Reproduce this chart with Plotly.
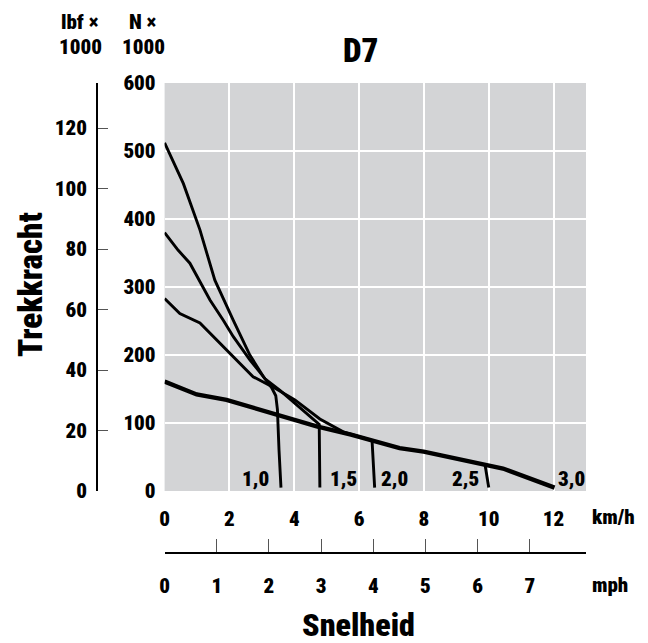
import plotly.graph_objects as go

# ---- data (speed km/h, drawbar pull kN) ----
speed_g10 = [0, 0.58, 1.09, 1.55, 2.12, 2.63, 3.05, 3.30, 3.43, 3.48, 3.53, 3.59]
force_g10 = [512, 452, 384, 310, 251, 200, 168, 152, 140, 120, 60, 5]

speed_g15 = [0, 0.42, 0.78, 1.40, 1.81, 2.12, 2.63, 3.10, 3.56, 4.02, 4.50, 4.77, 4.79]
force_g15 = [380, 354, 335, 281, 251, 227, 193, 165, 148, 129, 109, 98, 5]

speed_g20 = [0, 0.47, 1.09, 1.71, 2.20, 2.73, 3.45, 4.02, 4.79, 5.20, 5.51, 6.00, 6.40, 6.48]
force_g20 = [283, 261, 247, 217, 193, 168, 150, 134, 106, 95, 87, 80, 74, 5]

speed_main = [0, 0.99, 1.91, 3.45, 4.69, 5.75, 6.40, 7.25, 7.99, 8.80, 9.93, 10.44, 12.03]
force_main = [161, 142, 134, 112, 95, 83, 74, 63, 58, 50, 38, 33, 5]

speed_g25 = [9.89, 10.0]
force_g25 = [37, 5]

gear_labels = ["1,0", "1,5", "2,0", "2,5", "3,0"]
gear_label_x = [3.27, 5.03, 6.62, 9.76, 12.08]
gear_label_anchor = ["right", "left", "left", "right", "left"]
gear_label_y = 17.6

kmh_ticks = [0, 2, 4, 6, 8, 10, 12]
mph_ticks = [0, 1, 2, 3, 4, 5, 6, 7]
kn_ticks = [0, 100, 200, 300, 400, 500, 600]
lbf_ticks = [0, 20, 40, 60, 80, 100, 120]

KMH_MAX = 13
KN_MAX = 600
KMH_PER_MPH = 1.609344
KN_PER_KLBF = 4.44822

FONT = "Roboto Condensed, Open Sans, sans-serif"
WEIGHT = 900
BG = "#d3d4d6"

fig = go.Figure()
thin = dict(color="black", width=2.9)
for xs, ys, ln in [
    (speed_g10, force_g10, thin),
    (speed_g15, force_g15, thin),
    (speed_g20, force_g20, thin),
    (speed_g25, force_g25, thin),
    (speed_main, force_main, dict(color="black", width=4.4)),
]:
    fig.add_trace(go.Scatter(x=xs, y=ys, mode="lines", line=ln,
                             showlegend=False, hoverinfo="skip"))

# empty traces to activate the secondary (mph / lbf) axes
fig.add_trace(go.Scatter(x=[], y=[], xaxis="x2", yaxis="y", showlegend=False))
fig.add_trace(go.Scatter(x=[], y=[], xaxis="x", yaxis="y2", showlegend=False))

for t, xv, anc in zip(gear_labels, gear_label_x, gear_label_anchor):
    fig.add_annotation(x=xv, y=gear_label_y, xref="x", yref="y", text=t,
                       showarrow=False, xanchor=anc, yanchor="middle",
                       font=dict(family=FONT, size=21, color="black", weight=WEIGHT))

# paper geometry
L, R, T, B = 97, 62, 83, 90
W, H = 648, 643
PW, PH = W - L - R, H - T - B
def px(X):
    return (X - L) / PW
def py(Y):
    return (H - B - Y) / PH

xdom0 = px(164.6)
ydom0 = py(491)

tickfont = dict(family=FONT, size=21, color="black", weight=WEIGHT)

fig.update_layout(
    width=W, height=H,
    margin=dict(l=L, r=R, t=T, b=B, pad=0),
    paper_bgcolor="white", plot_bgcolor=BG,
    xaxis=dict(domain=[xdom0, 1], range=[0, KMH_MAX], anchor="y",
               tickvals=kmh_ticks, ticktext=[str(v) for v in kmh_ticks],
               showgrid=True, gridcolor="white", gridwidth=1.6,
               zeroline=False, showline=False, ticks="",
               ticklabelstandoff=13, tickfont=tickfont, fixedrange=True),
    xaxis2=dict(overlaying="x", anchor="free", position=0, side="bottom",
                range=[0, KMH_MAX / KMH_PER_MPH],
                tickvals=mph_ticks, ticktext=[str(v) for v in mph_ticks],
                showgrid=False, zeroline=False,
                showline=True, linecolor="black", linewidth=1.6,
                ticks="inside", ticklen=13, tickwidth=1.4, tickcolor="#555555",
                ticklabelstandoff=14, tickfont=tickfont, fixedrange=True),
    yaxis=dict(domain=[ydom0, 1], range=[0, KN_MAX], anchor="x",
               tickvals=kn_ticks, ticktext=[str(v) for v in kn_ticks],
               showgrid=True, gridcolor="white", gridwidth=1.6,
               zeroline=False, showline=False, ticks="",
               ticklabelstandoff=8, tickfont=tickfont, fixedrange=True),
    yaxis2=dict(overlaying="y", anchor="free", position=0, side="left",
                range=[0, KN_MAX / KN_PER_KLBF],
                tickvals=lbf_ticks, ticktext=[str(v) for v in lbf_ticks],
                showgrid=False, zeroline=False,
                showline=True, linecolor="black", linewidth=1.6,
                ticks="inside", ticklen=10, tickwidth=1.4, tickcolor="#555555",
                ticklabelstandoff=5, tickfont=tickfont, fixedrange=True),
)

def ann(text, X, Y, size, xanchor="center", angle=0, height=None):
    kw = {}
    if height:
        kw["height"] = height
    fig.add_annotation(x=px(X), y=py(Y), xref="paper", yref="paper", text=text,
                       showarrow=False, xanchor=xanchor, yanchor="middle",
                       textangle=angle,
                       font=dict(family=FONT, size=size, color="black", weight=WEIGHT),
                       **kw)

ann("lbf ×", 80, 22, 21)
ann("1000", 80, 47, 21)
ann("N ×", 143, 22, 21)
ann("1000", 143, 47, 21)
ann("D7", 360, 50, 33)
ann("Trekkracht", 30, 285, 33, angle=-90)
ann("Snelheid", 358.5, 625, 32, height=28)
ann("km/h", 590, 517, 21, xanchor="left")
ann("mph", 590, 585, 21, xanchor="left")

fig.write_html("out.html", config={"displayModeBar": False},
               post_script="document.body.style.margin='0';")
